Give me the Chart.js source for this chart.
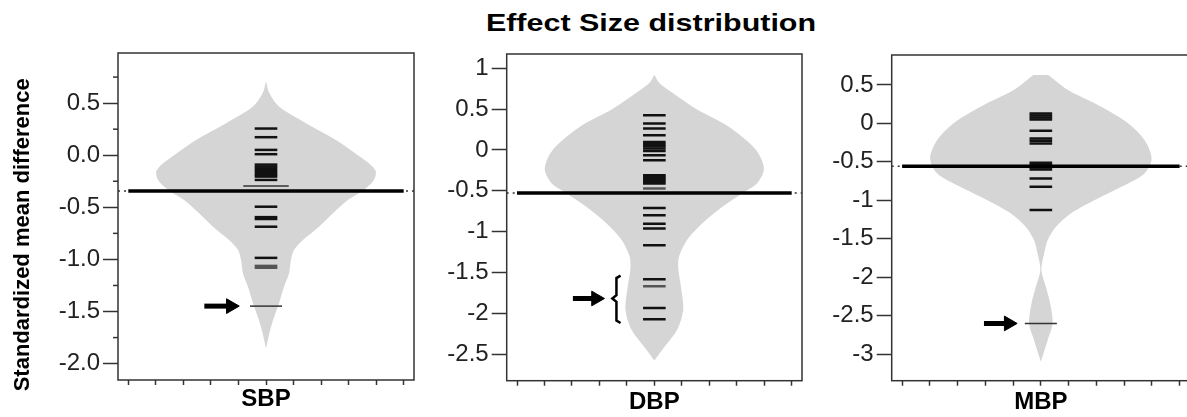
<!DOCTYPE html>
<html>
<head>
<meta charset="utf-8">
<script src="https://cdn.jsdelivr.net/npm/chart.js@4.4.1/dist/chart.umd.min.js"></script>
<style>
  html, body { margin: 0; padding: 0; background: #fff; }
  body { position: relative; width: 1187px; height: 417px; overflow: hidden; font-family: "Liberation Sans", Arial, sans-serif; }
  canvas { position: absolute; top: 0; }
  #title {
    position: absolute; left: 651px; top: 9px; line-height: 28px;
    font-size: 24px; font-weight: bold; color: #000; white-space: nowrap;
    transform: translateX(-50%) scaleX(1.27);
  }
</style>
</head>
<body>
<div id="title">Effect Size distribution</div>
<canvas id="c-sbp" width="420" height="417" style="left:0px"></canvas>
<canvas id="c-dbp" width="388" height="417" style="left:420px"></canvas>
<canvas id="c-mbp" width="390" height="417" style="left:808px"></canvas>
<script>
/* Beanplots of standardized mean differences, one Chart.js scatter chart per
 * outcome. The bean outline is a closed line filled with fill:'shape'; each
 * study is a short horizontal 'line' point, the mean a full-width line. */
(function () {
  "use strict";

  const categories = ["SBP", "DBP", "MBP"];
  const xTicks = [-1, -0.8, -0.6, -0.4, -0.2, 0, 0.2, 0.4, 0.6, 0.8, 1];

  // --- SBP ---
  const sbpYTicks = [0.5, 0, -0.5, -1, -1.5, -2];
  const sbpYLabels = ["0.5", "0.0", "-0.5", "-1.0", "-1.5", "-2.0"];
  const sbpMinorTicks = [0.75, 0.25, -0.25, -0.75, -1.25, -1.75];
  const sbpBeans = [0.256, 0.173, 0.051, 0.01, -0.09, -0.11, -0.13, -0.15, -0.17, -0.19, -0.205, -0.237, -0.494, -0.594, -0.612, -0.686, -0.985];
  const sbpGrayBeans = [-1.062, -1.08];
  const sbpLongBeans = [-0.295];
  const sbpMarked = [-1.448];
  const sbpMean = -0.343;
  const sbpDensY = [0.71, 0.596, 0.468, 0.308, 0.147, 0.0, -0.093, -0.157, -0.237, -0.333, -0.43, -0.558, -0.686, -0.814, -0.91, -1.006, -1.135, -1.263, -1.423, -1.583, -1.71, -1.856];
  const sbpDensW = [0, 0.024, 0.094, 0.29, 0.508, 0.668, 0.762, 0.798, 0.784, 0.711, 0.595, 0.486, 0.385, 0.268, 0.203, 0.181, 0.167, 0.131, 0.094, 0.051, 0.024, 0];
  const sbpArrow = { y: -1.448, from: -0.448, to: -0.194 };

  // --- DBP ---
  const dbpYTicks = [1, 0.5, 0, -0.5, -1, -1.5, -2, -2.5];
  const dbpYLabels = ["1", "0.5", "0", "-0.5", "-1", "-1.5", "-2", "-2.5"];
  const dbpBeans = [0.425, 0.323, 0.261, 0.18, 0.098, 0.069, 0.045, 0.016, -0.012, -0.065, -0.127, -0.31, -0.33, -0.35, -0.37, -0.39, -0.41, -0.711, -0.8, -0.903, -0.964, -1.168, -1.585, -1.936, -2.075];
  const dbpGrayBeans = [-0.474, -1.671];
  const dbpMean = -0.527;
  const dbpDensY = [0.92, 0.82, 0.7, 0.5, 0.28, 0.0, -0.23, -0.41, -0.5, -0.7, -0.9, -1.1, -1.3, -1.45, -1.7, -1.96, -2.2, -2.4, -2.58];
  const dbpDensW = [0, 0.036, 0.131, 0.305, 0.544, 0.74, 0.798, 0.747, 0.668, 0.493, 0.348, 0.239, 0.181, 0.174, 0.196, 0.21, 0.167, 0.08, 0];
  const dbpArrow = { y: -1.82, from: -0.593, to: -0.363 };
  const dbpBrace = { x: -0.276, top: -1.54, mid: -1.82, bottom: -2.12 };

  // --- MBP ---
  const mbpYTicks = [0.5, 0, -0.5, -1, -1.5, -2, -2.5, -3];
  const mbpYLabels = ["0.5", "0", "-0.5", "-1", "-1.5", "-2", "-2.5", "-3"];
  const mbpBeans = [0.13, 0.104, 0.078, 0.052, -0.095, -0.195, -0.226, -0.26, -0.512, -0.542, -0.572, -0.598, -0.716, -0.824, -1.127];
  const mbpMarked = [-2.602];
  const mbpMean = -0.556;
  const mbpDensY = [0.63, 0.434, 0.217, 0.0, -0.217, -0.455, -0.65, -0.824, -1.0, -1.17, -1.345, -1.52, -1.69, -1.86, -1.95, -2.125, -2.34, -2.6, -2.82, -3.1];
  const mbpDensW = [0.054, 0.196, 0.435, 0.631, 0.747, 0.798, 0.747, 0.581, 0.385, 0.218, 0.109, 0.049, 0.024, 0.005, 0.007, 0.036, 0.067, 0.085, 0.049, 0];
  const mbpArrow = { y: -2.602, from: -0.41, to: -0.17 };

  const FONT = '"Liberation Sans", Arial, sans-serif';
  const BEAN_FILL = "#d5d5d5";
  const INK = "#333";
  const HEAD = 0.062; // arrow head radius, x-axis units

  // outline: left edge top -> bottom, then right edge bottom -> top
  const outline = (ys, ws) =>
    ys.map((y, i) => ({ x: -ws[i], y: y })).concat(ys.map((y, i) => ({ x: ws[i], y: y })).reverse());
  const beans = (vals, r, w, color) => ({
    data: vals.map((v) => ({ x: 0, y: v })),
    pointStyle: "line", pointRadius: r, pointBorderWidth: w,
    pointBorderColor: color, pointBackgroundColor: color, order: 2,
  });
  const segment = (pts, w, color, dash, order) => ({
    data: pts, showLine: true, borderWidth: w, borderColor: color,
    borderDash: dash || [], pointRadius: 0, tension: 0, order: order === undefined ? 1 : order,
  });

  const framePlugin = {
    id: "frame",
    afterDraw(chart, args, opts) {
      const { ctx, chartArea: a } = chart;
      ctx.save();
      ctx.strokeStyle = INK;
      ctx.lineWidth = 1.5;
      ctx.strokeRect(a.left, a.top, a.right - a.left, a.bottom - a.top);
      const ys = chart.scales.y;
      (opts.minor || []).forEach((v) => {
        const py = ys.getPixelForValue(v);
        ctx.beginPath();
        ctx.moveTo(a.left - 5, py);
        ctx.lineTo(a.left, py);
        ctx.stroke();
      });
      ctx.restore();
    },
  };

  function panel(id, p) {
    const datasets = [
      {
        data: outline(p.densY, p.densW), showLine: true, fill: "shape", tension: 0.3,
        backgroundColor: BEAN_FILL, borderColor: "rgba(0,0,0,0)", pointRadius: 0, order: 10,
      },
      segment([{ x: -1.075, y: p.mean }, { x: 1.075, y: p.mean }], 1.5, INK, [2, 4], 5),
      segment([{ x: -1.0, y: p.mean }, { x: 1.0, y: p.mean }], 3.5, "#000", [], 0),
      beans(p.beans, 11.3, 2.5, "#111"),
    ];
    if (p.grayBeans) datasets.push(beans(p.grayBeans, 11.3, 2.5, "#555"));
    if (p.longBeans) datasets.push(beans(p.longBeans, 22.7, 1.5, "#333"));
    if (p.marked) datasets.push(beans(p.marked, 16, 1.5, "#333"));
    const a = p.arrow;
    datasets.push(segment([{ x: a.from, y: a.y }, { x: a.to - HEAD, y: a.y }], 5, "#000"));
    datasets.push({
      data: [{ x: a.to - HEAD, y: a.y }], pointStyle: "triangle", pointRotation: 90,
      pointRadius: 8.5, pointBackgroundColor: "#000", pointBorderColor: "#000", pointBorderWidth: 1, order: 1,
    });
    if (p.brace) {
      const b = p.brace;
      datasets.push(segment([
        { x: b.x + 0.03, y: b.top }, { x: b.x, y: b.top - 0.03 }, { x: b.x, y: b.mid + 0.04 },
        { x: b.x - 0.03, y: b.mid }, { x: b.x, y: b.mid - 0.04 }, { x: b.x, y: b.bottom + 0.03 },
        { x: b.x + 0.03, y: b.bottom },
      ], 2.5, "#000"));
    }

    return new Chart(document.getElementById(id), {
      type: "scatter",
      data: { datasets: datasets },
      plugins: [framePlugin],
      options: {
        responsive: false,
        animation: false,
        events: [],
        layout: { autoPadding: false, padding: { left: 0, right: p.padRight, top: p.padTop, bottom: 0 } },
        plugins: { legend: { display: false }, tooltip: { enabled: false }, frame: { minor: p.minor } },
        scales: {
          x: {
            type: "linear", min: -1.075, max: 1.075,
            afterBuildTicks: (s) => { s.ticks = xTicks.map((v) => ({ value: v })); },
            afterFit: (s) => { s.height = p.xHeight; },
            ticks: { callback: () => "", autoSkip: false },
            grid: { drawOnChartArea: false, tickLength: 5, tickColor: INK, tickWidth: 1.5 },
            border: { display: false },
            title: {
              display: true, text: p.name, color: "#000",
              font: { family: FONT, size: 24, weight: "bold" },
              padding: { top: 0, bottom: p.titlePad },
            },
          },
          y: {
            type: "linear", min: p.yMin, max: p.yMax,
            afterBuildTicks: (s) => { s.ticks = p.yTicks.map((v) => ({ value: v })); },
            afterFit: (s) => { s.width = p.yWidth; },
            ticks: {
              callback: (v, i) => p.yLabels[i], autoSkip: false, padding: 3,
              color: "#222", font: { family: FONT, size: 24 },
            },
            grid: { drawOnChartArea: false, tickLength: 15, tickColor: INK, tickWidth: 1.5 },
            border: { display: false },
            title: {
              display: !!p.yTitle, text: p.yTitle || "", color: "#000",
              font: { family: FONT, size: 22, weight: "bold" },
              padding: { top: 10, bottom: 0 },
            },
          },
        },
      },
    });
  }

  panel("c-sbp", {
    name: categories[0], yMin: -2.157, yMax: 0.981, yTicks: sbpYTicks, yLabels: sbpYLabels, minor: sbpMinorTicks,
    beans: sbpBeans, grayBeans: sbpGrayBeans, longBeans: sbpLongBeans, marked: sbpMarked, mean: sbpMean,
    densY: sbpDensY, densW: sbpDensW, arrow: sbpArrow,
    yTitle: "Standardized mean difference      ",
    yWidth: 118, padRight: 6, padTop: 53, xHeight: 37, titlePad: 3.6,
  });
  panel("c-dbp", {
    name: categories[1], yMin: -2.827, yMax: 1.175, yTicks: dbpYTicks, yLabels: dbpYLabels,
    beans: dbpBeans, grayBeans: dbpGrayBeans, mean: dbpMean,
    densY: dbpDensY, densW: dbpDensW, arrow: dbpArrow, brace: dbpBrace,
    yWidth: 86.7, padRight: 6, padTop: 54, xHeight: 36.3, titlePad: 0,
  });
  panel("c-mbp", {
    name: categories[2], yMin: -3.347, yMax: 0.89, yTicks: mbpYTicks, yLabels: mbpYLabels,
    beans: mbpBeans, marked: mbpMarked, mean: mbpMean,
    densY: mbpDensY, densW: mbpDensW, arrow: mbpArrow,
    yWidth: 83.7, padRight: 8, padTop: 55, xHeight: 36.3, titlePad: 0,
  });
})();
</script>
</body>
</html>
